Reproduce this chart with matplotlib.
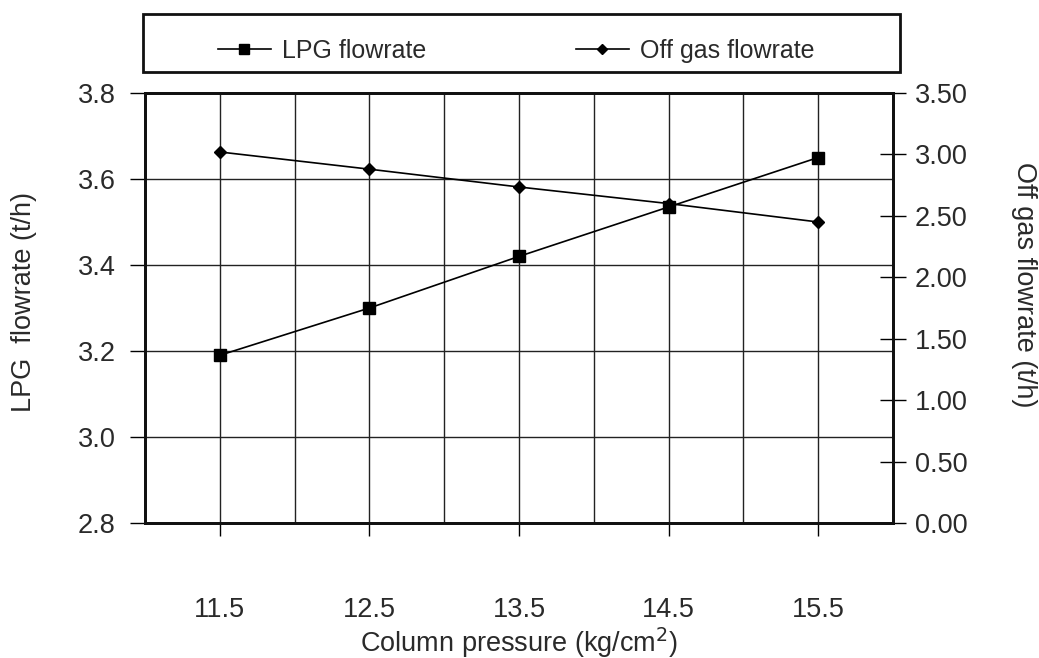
import matplotlib
matplotlib.use("Agg")
import matplotlib.pyplot as plt
from matplotlib.patches import Rectangle
from matplotlib.ticker import MultipleLocator, FormatStrFormatter

pressure = [11.5, 12.5, 13.5, 14.5, 15.5]
lpg_flow = [3.19, 3.30, 3.42, 3.535, 3.65]
offgas_flow = [3.02, 2.88, 2.735, 2.60, 2.45]

lpg_ticks = [2.8, 3.0, 3.2, 3.4, 3.6, 3.8]
offgas_ticks = [0.0, 0.5, 1.0, 1.5, 2.0, 2.5, 3.0, 3.5]

plt.rcParams["font.family"] = ["Liberation Sans", "DejaVu Sans"]
TXT = "#2a2a2a"
FS = 19.5

W, H = 1039, 658
fig = plt.figure(figsize=(W / 100, H / 100), dpi=100)
ax = fig.add_axes([145 / W, 1 - 523 / H, 748 / W, 430 / H])
ax2 = ax.twinx()

# data
l1, = ax.plot(pressure, lpg_flow, color="black", lw=1.2, marker="s", ms=9,
              label="LPG flowrate", zorder=5)
l2, = ax2.plot(pressure, offgas_flow, color="black", lw=1.2, marker="D", ms=6,
               label="Off gas flowrate", zorder=5)

ax.set_xlim(11, 16)
ax.set_ylim(lpg_ticks[0], lpg_ticks[-1])
ax2.set_ylim(offgas_ticks[0], offgas_ticks[-1])

# grid: every 0.5 on x, every left tick on y
ax.set_xticks(pressure)
ax.xaxis.set_minor_locator(MultipleLocator(0.5))
ax.set_yticks(lpg_ticks)
ax.yaxis.set_major_formatter(FormatStrFormatter("%.1f"))
ax.grid(True, which="both", axis="x", color="#222222", lw=1.0)
ax.grid(True, which="major", axis="y", color="#222222", lw=1.0)
ax.tick_params(axis="x", which="minor", length=0)
ax.tick_params(axis="x", which="major", direction="out", length=9, width=1,
               pad=44, labelsize=FS, labelcolor=TXT)
ax.tick_params(axis="y", direction="out", length=11, width=1, pad=10,
               labelsize=FS, labelcolor=TXT)

ax2.set_yticks(offgas_ticks)
ax2.yaxis.set_major_formatter(FormatStrFormatter("%.2f"))
ax2.tick_params(axis="y", direction="inout", length=19, width=1, pad=6,
                labelsize=FS, labelcolor=TXT)

for a in (ax, ax2):
    for sp in a.spines.values():
        sp.set_linewidth(2.0)
        sp.set_color("#111111")

ax.set_xlabel("Column pressure (kg/cm$^2$)", fontsize=FS, color=TXT)
ax.xaxis.set_label_coords(0.5, -0.238)

fig.text(24 / W, 1 - 302 / H, "LPG  flowrate (t/h)", rotation=90,
         ha="center", va="center", fontsize=FS, color=TXT)
fig.text(1024 / W, 1 - 285 / H, "Off gas flowrate (t/h)", rotation=270,
         ha="center", va="center", fontsize=FS, color=TXT)

# legend box above the plot
fig.patches.append(Rectangle((143 / W, 1 - 72 / H), 757 / W, 58 / H,
                             transform=fig.transFigure, fill=False,
                             edgecolor="#111111", lw=2.0))
fig.legend(handles=[l1, l2], loc="center left",
           bbox_to_anchor=(218 / W, 1 - 51 / H), ncol=2, frameon=False,
           fontsize=18, handlelength=2.1, handletextpad=0.45,
           columnspacing=6.0, borderpad=0, borderaxespad=0,
           markerscale=0.8, labelcolor=TXT)

fig.savefig("out.png", dpi=100)
